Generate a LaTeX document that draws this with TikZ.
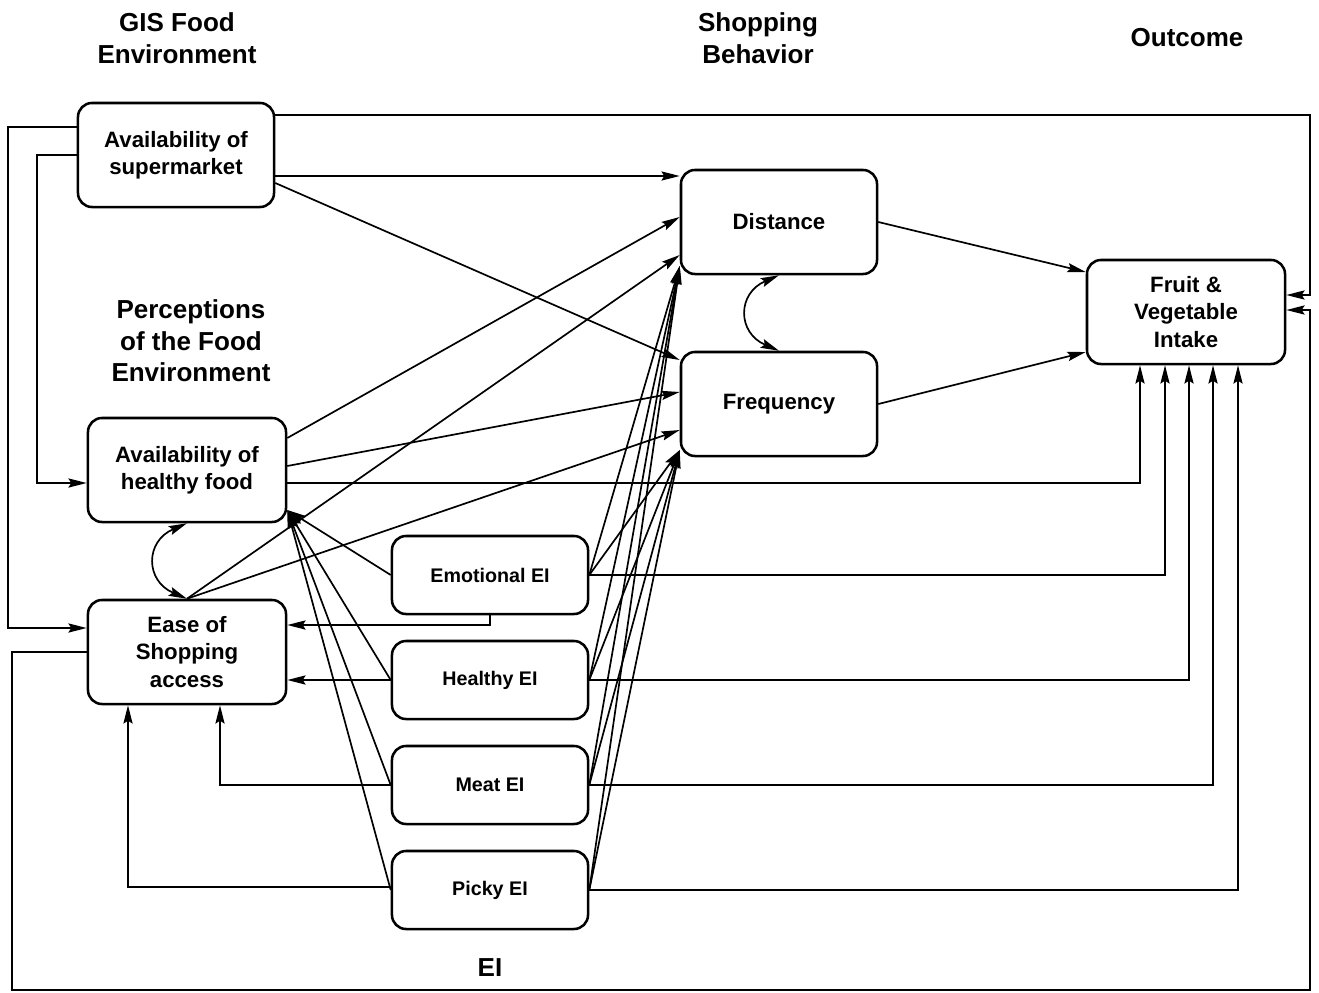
\documentclass[tikz,border=0pt]{standalone}
\usepackage{fontspec}
\setmainfont{Liberation Sans}
\usepackage{tikz}
\usetikzlibrary{arrows.meta, positioning, calc}

\begin{document}
\begin{tikzpicture}[x=0.025cm, y=-0.025cm,
  box/.style={draw, line width=1.8pt, rounded corners=10pt, align=center,
              minimum width=4.9cm, minimum height=2.6cm, inner sep=0pt,
              font=\bfseries\fontsize{15.8}{19.5}\selectfont},
  eibox/.style={box, minimum height=1.95cm, font=\bfseries\fontsize{14}{17}\selectfont},
  head/.style={align=center, font=\bfseries\fontsize{18.5}{22.5}\selectfont},
  arr/.style={-{Stealth[length=13pt,width=6.5pt,inset=2pt]}, line width=1.2pt},
  biarr/.style={{Stealth[length=13pt,width=6.5pt,inset=2pt]}-{Stealth[length=13pt,width=6.5pt,inset=2pt]}, line width=1.2pt}]
\useasboundingbox (0,0) rectangle (1319,992);

% column headings
\node[head] (hgis)  at (177,38)  {GIS Food\\Environment};
\node[head] (hshop) at (758,38)  {Shopping\\Behavior};
\node[head] (hout)  at (1187,38) {Outcome};
\node[head] (hperc) at (191,341) {Perceptions\\of the Food\\Environment};
\node[head] (hei)   at (490,968) {EI};

% boxes
\node[box] (sup)   at (176,155)   {Availability of\\supermarket};
\node[box, minimum width=4.95cm] (hfood) at (187,470) {Availability of\\healthy food};
\node[box, minimum width=4.95cm] (ease)  at (187,652) {Ease of\\Shopping\\access};
\node[box] (dist)  at (779,222)   {Distance};
\node[box] (freq)  at (779,404)   {Frequency};
\node[box, minimum width=4.95cm] (fv) at (1186,312) {Fruit \&\\Vegetable\\Intake};

\node[eibox] (emo)   at (490,575) {Emotional EI};
\node[eibox] (heal)  at (490,680) {Healthy EI};
\node[eibox] (meat)  at (490,785) {Meat EI};
\node[eibox] (picky) at (490,890) {Picky EI};

% supermarket paths
\draw[arr] (sup.east |- 0,115) -| (1310,295) -- (fv.east |- 0,295);
\draw[arr] (sup.west |- 0,127) -| (8,628) -- (ease.west |- 0,628);
\draw[arr] (sup.west |- 0,155) -| (37,483) -- (hfood.west |- 0,483);
\draw[arr] (sup.east |- 0,176) -- (dist.west |- 0,176);
\draw[arr] (sup.east |- 0,183) -- (freq.west |- 0,360);

% perceptions
\draw[arr] (hfood.east |- 0,438) -- (dist.west |- 0,217);
\draw[arr] (hfood.east |- 0,466) -- (freq.west |- 0,392);
\draw[arr] (hfood.east |- 0,483) -| (fv.south -| 1140,0);
\draw[arr] (ease.north) -- (dist.west |- 0,255);
\draw[arr] (ease.north) -- (freq.west |- 0,430);
\draw[arr] (ease.west |- 0,652) -| (12,990) -| (1310,310) -- (fv.east |- 0,310);
\draw[biarr] (hfood.south) .. controls +(-42,18) and +(-42,-18) .. (ease.north);

% shopping behavior
\draw[biarr] (dist.south) .. controls +(-42,18) and +(-42,-18) .. (freq.north);
\draw[arr] (dist.east) -- (fv.west |- 0,272);
\draw[arr] (freq.east) -- (fv.west |- 0,352);

% EI paths
\foreach \e/\fx in {emo/1165, heal/1189, meat/1213, picky/1238} {
  \draw[arr] (\e.west) -- (hfood.east |- 0,510);
  \draw[arr] (\e.east) -- (dist.west |- 0,266);
  \draw[arr] (\e.east) -- (freq.west |- 0,450);
  \draw[arr] (\e.east) -| (fv.south -| \fx,0);
}
\draw[arr] (emo.south) |- (ease.east |- 0,625);
\draw[arr] (heal.west) -- (ease.east |- heal.west);
\draw[arr] (meat.west) -| (ease.south -| 220,0);
\draw[arr] (picky.west |- 0,887) -| (ease.south -| 128,0);
\end{tikzpicture}
\end{document}
